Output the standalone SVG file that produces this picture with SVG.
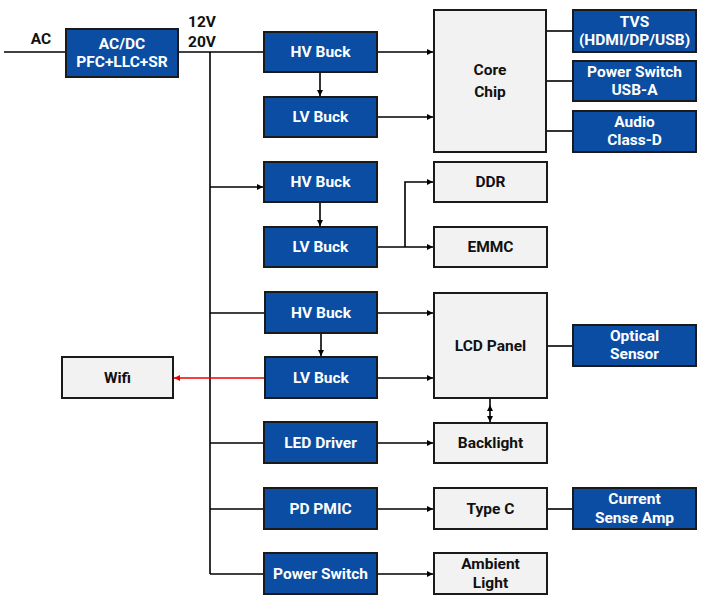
<svg xmlns="http://www.w3.org/2000/svg" width="720" height="600" viewBox="0 0 720 600">
<defs>
<marker id="ah" viewBox="0 0 10 10" refX="10" refY="5" markerWidth="6" markerHeight="6" orient="auto-start-reverse" markerUnits="userSpaceOnUse"><path d="M0,0 L10,5 L0,10 z" fill="#000"/></marker>
<marker id="ahr" viewBox="0 0 10 10" refX="10" refY="5" markerWidth="6" markerHeight="6" orient="auto" markerUnits="userSpaceOnUse"><path d="M0,0 L10,5 L0,10 z" fill="#e00"/></marker>
<style>
.b rect{fill:#0A4DA2;stroke:#1a1a1a;stroke-width:2}
.g rect{fill:#F2F2F2;stroke:#1a1a1a;stroke-width:2}
text{font-family:Roboto,"Liberation Sans",sans-serif;font-weight:bold;font-size:15.5px;text-anchor:middle;dominant-baseline:central}
.b text{fill:#fff}
.g text,.lbl{fill:#111}
.c line,.c path{stroke:#000;stroke-width:1.6;fill:none}
.c .a{marker-end:url(#ah)}
.c .red{stroke:#e00;marker-end:url(#ahr)}
</style>
</defs>
<rect width="720" height="600" fill="#fff"/>
<g class="c" id="connectors">
<line x1="4" y1="52" x2="66" y2="52"/>
<line x1="178" y1="52" x2="264" y2="52"/>
<line x1="210" y1="52" x2="210" y2="574"/>
<line class="a" x1="320" y1="72" x2="320" y2="96"/>
<line class="a" x1="377" y1="52" x2="433" y2="52"/>
<line class="a" x1="377" y1="117" x2="433" y2="117"/>
<line x1="546" y1="31" x2="573" y2="31"/>
<line x1="546" y1="81" x2="573" y2="81"/>
<line x1="546" y1="131" x2="573" y2="131"/>
<line class="a" x1="210" y1="187" x2="263" y2="187"/>
<line class="a" x1="320" y1="202" x2="320" y2="226"/>
<line class="a" x1="377" y1="247" x2="433" y2="247"/>
<path class="a" d="M405,247 V182 H433"/>
<line x1="210" y1="313" x2="264" y2="313"/>
<line class="a" x1="321" y1="333" x2="321" y2="356"/>
<line class="a" x1="377" y1="313" x2="433" y2="313"/>
<line class="a" x1="377" y1="378" x2="433" y2="378"/>
<line class="red" x1="264" y1="378" x2="174" y2="378"/>
<line x1="547" y1="346" x2="573" y2="346"/>
<line class="a" x1="490" y1="405" x2="490" y2="422" style="marker-start:url(#ah)"/>
<line x1="490" y1="399" x2="490" y2="405"/>
<line x1="210" y1="443" x2="264" y2="443"/>
<line class="a" x1="377" y1="443" x2="433" y2="443"/>
<line x1="210" y1="509" x2="264" y2="509"/>
<line class="a" x1="377" y1="509" x2="433" y2="509"/>
<line x1="547" y1="509" x2="573" y2="509"/>
<line x1="210" y1="574" x2="264" y2="574"/>
<line class="a" x1="377" y1="574" x2="433" y2="574"/>
</g>
<text class="lbl" x="41" y="39">AC</text>
<text class="lbl" x="202" y="22">12V</text>
<text class="lbl" x="202" y="42">20V</text>
<g class="b" id="acdc"><rect x="66" y="29" width="112" height="48"/><text x="122" y="44">AC/DC</text><text x="122" y="62">PFC+LLC+SR</text></g>
<g class="b" id="hv1"><rect x="264" y="32" width="113" height="40"/><text x="320.5" y="52">HV Buck</text></g>
<g class="b" id="lv1"><rect x="264" y="97" width="113" height="40"/><text x="320.5" y="117">LV Buck</text></g>
<g class="g" id="core"><rect x="434" y="10" width="112" height="142"/><text x="490" y="70">Core</text><text x="490" y="92">Chip</text></g>
<g class="b" id="tvs"><rect x="573" y="10" width="123" height="42"/><text x="634.5" y="22">TVS</text><text x="634.5" y="40">(HDMI/DP/USB)</text></g>
<g class="b" id="psusb"><rect x="573" y="61" width="123" height="40"/><text x="634.5" y="72">Power Switch</text><text x="634.5" y="90">USB-A</text></g>
<g class="b" id="audio"><rect x="573" y="111" width="123" height="41"/><text x="634.5" y="122">Audio</text><text x="634.5" y="140">Class-D</text></g>
<g class="b" id="hv2"><rect x="264" y="162" width="113" height="40"/><text x="320.5" y="182">HV Buck</text></g>
<g class="b" id="lv2"><rect x="264" y="227" width="113" height="40"/><text x="320.5" y="247">LV Buck</text></g>
<g class="g" id="ddr"><rect x="434" y="162" width="113" height="40"/><text x="490.5" y="182">DDR</text></g>
<g class="g" id="emmc"><rect x="434" y="227" width="113" height="40"/><text x="490.5" y="247">EMMC</text></g>
<g class="b" id="hv3"><rect x="265" y="292" width="112" height="41"/><text x="321" y="313">HV Buck</text></g>
<g class="b" id="lv3"><rect x="265" y="357" width="112" height="41"/><text x="321" y="378">LV Buck</text></g>
<g class="g" id="wifi"><rect x="62" y="357" width="111" height="41"/><text x="117.5" y="378">Wifi</text></g>
<g class="g" id="lcd"><rect x="434" y="293" width="113" height="105"/><text x="490.5" y="346">LCD Panel</text></g>
<g class="b" id="optical"><rect x="573" y="325" width="123" height="41"/><text x="634.5" y="336">Optical</text><text x="634.5" y="354">Sensor</text></g>
<g class="b" id="led"><rect x="264" y="422" width="113" height="41"/><text x="320.5" y="443">LED Driver</text></g>
<g class="g" id="backlight"><rect x="434" y="423" width="113" height="40"/><text x="490.5" y="443">Backlight</text></g>
<g class="b" id="pd"><rect x="264" y="488" width="113" height="41"/><text x="320.5" y="509">PD PMIC</text></g>
<g class="g" id="typec"><rect x="434" y="488" width="113" height="41"/><text x="490.5" y="509">Type C</text></g>
<g class="b" id="csa"><rect x="573" y="488" width="123" height="41"/><text x="634.5" y="499">Current</text><text x="634.5" y="518">Sense Amp</text></g>
<g class="b" id="psw"><rect x="264" y="553" width="113" height="41"/><text x="320.5" y="574">Power Switch</text></g>
<g class="g" id="ambient"><rect x="434" y="553" width="113" height="41"/><text x="490.5" y="564">Ambient</text><text x="490.5" y="583">Light</text></g>
</svg>
